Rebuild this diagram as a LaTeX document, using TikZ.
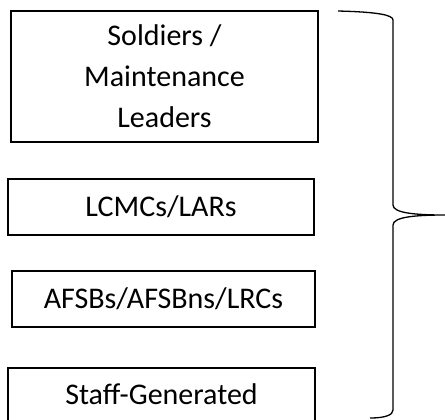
\documentclass[tikz,border=0pt]{standalone}
\usepackage{fontspec}
\setmainfont{Carlito}
\begin{document}
\begin{tikzpicture}[x=1bp,y=-1bp,
  box/.style={draw=black, line width=1.6bp, inner sep=0pt, align=center,
    font=\fontsize{30bp}{41bp}\selectfont},
  bracepath/.style={draw=black, line width=1.3bp}]
\useasboundingbox (0,0) rectangle (445,419);
\clip (0,0) rectangle (445,419);
\node[box, minimum width=307bp, minimum height=131bp] (sold) at (164.5,76.5)
  {Soldiers /\\Maintenance\\Leaders};
\node[box, minimum width=306bp, minimum height=56bp] (lcmc) at (161,207) {LCMCs/LARs};
\node[box, minimum width=303bp, minimum height=56bp] (afsb) at (163.5,299) {AFSBs/AFSBns/LRCs};
\node[box, minimum width=307bp, minimum height=70bp, anchor=north] (staffbox) at (161.5,367) {};
\node[font=\fontsize{30bp}{41bp}\selectfont, inner sep=0pt] (staff) at (161.5,394) {Staff-Generated};
\coordinate (btop) at (338,11);
\coordinate (btip) at (445,215);
\coordinate (bbot) at (370,418);
\draw[bracepath] (btop) .. controls (378,12) and (393,15) .. (393,20)
  -- (393,205) .. controls (393,213) and (415,215) .. (btip)
  .. controls (415,215) and (393,217) .. (393,225)
  -- (393,410) .. controls (393,415) and (385,418) .. (bbot);
\end{tikzpicture}
\end{document}
